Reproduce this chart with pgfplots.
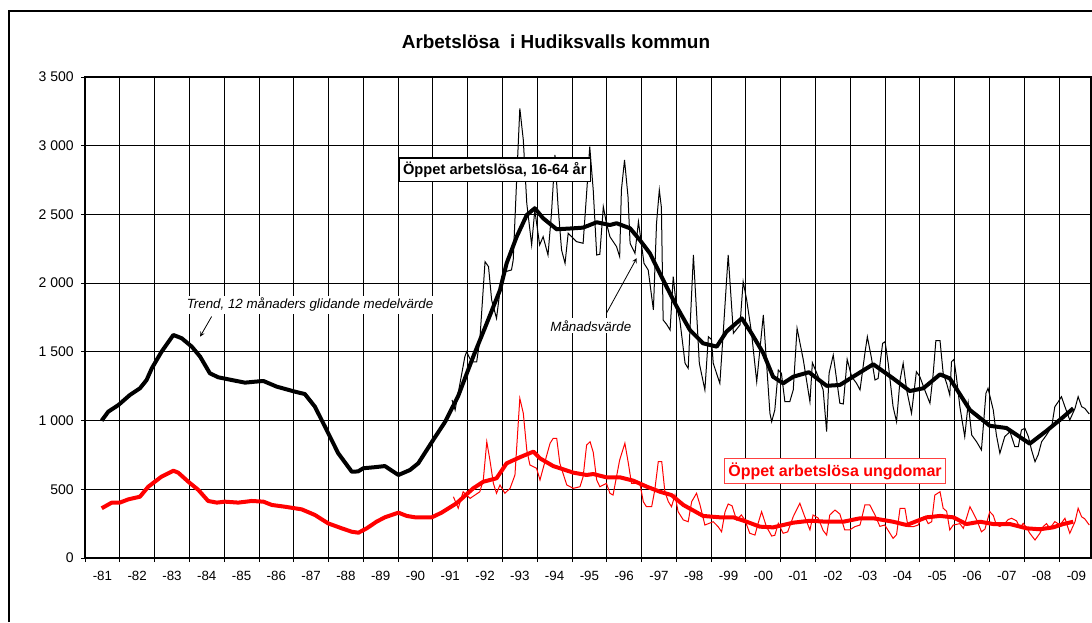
\documentclass[border=0pt]{standalone}
\usepackage{fontspec}
\setmainfont{Liberation Sans}
\usepackage{pgfplots}
\pgfplotsset{compat=1.18}

\begin{document}
\begin{tikzpicture}[x=0.75pt,y=0.75pt]
\path[use as bounding box] (0,0) rectangle (1092,622);
\draw[line width=0.9pt] (9,0) -- (9,611) -- (1092,611);
\node[font=\bfseries\fontsize{14.2}{16}\selectfont] at (556,580) {Arbetslösa\ \ i Hudiksvalls kommun};
\begin{axis}[
  at={(63.75pt,48pt)}, anchor=south west,
  scale only axis, width=754.5pt, height=360.75pt,
  xmin=1981, xmax=2009.92, ymin=0, ymax=3500,
  xtick={1981,...,2009}, xticklabels={},
  xmajorgrids, ymajorgrids,
  grid style={black, line width=0.6pt},
  axis line style={black, line width=0.8pt},
  tick align=outside, major tick length=3pt,
  tick style={black, line width=0.6pt},
  xtick pos=left, ytick pos=left,
  extra x ticks={1981.5,1982.5,...,2009.5},
  extra x tick labels={-81,-82,-83,-84,-85,-86,-87,-88,-89,-90,-91,-92,-93,-94,-95,-96,-97,-98,-99,-00,-01,-02,-03,-04,-05,-06,-07,-08,-09},
  extra x tick style={grid=none, major tick length=0pt, xticklabel style={yshift=-6pt}},
  ytick={0,500,...,3500},
  yticklabels={0,500,1 000,1 500,2 000,2 500,3 000,3 500},
  x tick label style={font=\fontsize{10}{12}\selectfont},
  y tick label style={font=\fontsize{10.5}{12}\selectfont, xshift=-2pt},
  clip=true,
]
% red monthly
\addplot[red, line width=0.75pt] coordinates {
(1991.59,446)(1991.73,362)(1991.87,482)(1992.07,434)(1992.35,482)(1992.45,568)(1992.55,846)(1992.64,713)(1992.74,543)(1992.83,471)(1992.93,531)(1993.07,471)(1993.22,507)(1993.36,604)(1993.50,1162)(1993.60,1053)(1993.70,786)(1993.79,677)(1993.98,653)(1994.08,568)(1994.17,653)(1994.37,835)(1994.46,871)(1994.56,871)(1994.65,689)(1994.85,531)(1995.04,507)(1995.23,519)(1995.32,592)(1995.42,822)(1995.52,846)(1995.61,770)(1995.71,568)(1995.80,519)(1995.99,543)(1996.09,471)(1996.18,458)(1996.37,713)(1996.52,835)(1996.62,689)(1996.71,543)(1996.95,543)(1997.05,410)(1997.14,373)(1997.29,373)(1997.38,495)(1997.48,701)(1997.58,701)(1997.67,482)(1997.77,410)(1997.86,373)(1997.96,458)(1998.05,337)(1998.20,277)(1998.34,264)(1998.44,410)(1998.58,471)(1998.68,386)(1998.82,240)(1999.06,264)(1999.20,228)(1999.30,191)(1999.40,337)(1999.49,393)(1999.60,380)(1999.73,277)(1999.87,313)(1999.97,277)(2000.11,180)(2000.26,167)(2000.35,252)(2000.45,337)(2000.59,228)(2000.74,160)(2000.83,165)(2000.93,252)(2001.07,180)(2001.20,190)(2001.36,301)(2001.55,398)(2001.69,301)(2001.84,204)(2001.93,313)(2002.08,290)(2002.22,200)(2002.32,167)(2002.41,313)(2002.56,349)(2002.70,320)(2002.84,204)(2002.98,204)(2003.13,228)(2003.28,240)(2003.42,386)(2003.56,386)(2003.71,313)(2003.85,230)(2003.99,240)(2004.09,200)(2004.23,143)(2004.33,170)(2004.43,362)(2004.57,362)(2004.66,228)(2004.81,228)(2004.95,240)(2005.05,290)(2005.14,300)(2005.24,250)(2005.34,264)(2005.43,458)(2005.58,482)(2005.67,362)(2005.77,340)(2005.86,204)(2005.96,240)(2006.15,250)(2006.25,216)(2006.34,290)(2006.44,373)(2006.53,330)(2006.63,280)(2006.77,191)(2006.87,210)(2007.01,337)(2007.11,310)(2007.20,240)(2007.30,230)(2007.44,250)(2007.54,280)(2007.64,289)(2007.78,270)(2007.88,220)(2007.97,252)(2008.07,220)(2008.16,180)(2008.31,131)(2008.45,180)(2008.55,230)(2008.64,250)(2008.74,216)(2008.88,265)(2009.03,240)(2009.17,289)(2009.31,180)(2009.46,264)(2009.55,362)(2009.65,300)(2009.74,285)(2009.87,240)
};
% red trend
\addplot[red, line width=3pt, line join=round] coordinates {
(1981.48,362)(1981.77,403)(1982.00,403)(1982.25,427)(1982.58,446)(1982.82,519)(1983.20,592)(1983.54,635)(1983.68,621)(1983.97,555)(1984.26,495)(1984.54,415)(1984.79,403)(1985.02,410)(1985.41,403)(1985.79,415)(1986.13,410)(1986.37,386)(1986.75,373)(1987.23,354)(1987.61,313)(1987.99,252)(1988.38,216)(1988.67,191)(1988.86,184)(1989.10,216)(1989.38,264)(1989.62,296)(1990.01,330)(1990.25,306)(1990.49,296)(1990.97,296)(1991.25,330)(1991.68,398)(1992.16,507)(1992.45,555)(1992.83,580)(1993.12,689)(1993.50,733)(1993.89,774)(1994.08,725)(1994.46,669)(1995.04,621)(1995.42,604)(1995.61,611)(1995.99,587)(1996.38,587)(1996.76,563)(1997.15,519)(1997.53,482)(1997.86,458)(1998.20,386)(1998.77,306)(1999.25,296)(1999.64,296)(2000.02,264)(2000.40,228)(2000.78,223)(2001.07,240)(2001.36,257)(2001.84,271)(2002.32,264)(2002.80,264)(2003.28,289)(2003.66,289)(2004.23,264)(2004.62,240)(2005.19,296)(2005.58,306)(2005.96,296)(2006.34,247)(2006.73,264)(2007.11,247)(2007.59,247)(2008.07,216)(2008.45,209)(2008.83,223)(2009.12,247)(2009.41,264)
};
% black monthly
\addplot[black, line width=0.75pt] coordinates {
(1991.55,1150)(1991.64,1077)(1991.92,1465)(1991.97,1501)(1992.11,1428)(1992.26,1428)(1992.35,1586)(1992.50,2156)(1992.60,2120)(1992.69,1877)(1992.83,1744)(1992.98,2047)(1993.08,2083)(1993.26,2096)(1993.31,2168)(1993.40,2700)(1993.50,3272)(1993.60,3042)(1993.70,2581)(1993.84,2278)(1993.93,2532)(1994.07,2278)(1994.17,2338)(1994.31,2205)(1994.41,2508)(1994.51,2933)(1994.60,2556)(1994.70,2241)(1994.80,2144)(1994.89,2363)(1994.99,2338)(1995.13,2302)(1995.32,2290)(1995.42,2654)(1995.51,2993)(1995.61,2678)(1995.71,2205)(1995.80,2210)(1995.90,2556)(1995.99,2436)(1996.09,2338)(1996.28,2266)(1996.37,2193)(1996.42,2678)(1996.51,2896)(1996.61,2629)(1996.67,2290)(1996.81,2217)(1996.91,2447)(1997.07,2144)(1997.19,2096)(1997.34,1805)(1997.43,2436)(1997.51,2678)(1997.57,2550)(1997.62,1732)(1997.72,1700)(1997.82,1659)(1997.91,2047)(1998.00,1830)(1998.10,1732)(1998.25,1417)(1998.34,1380)(1998.49,2205)(1998.60,1700)(1998.66,1417)(1998.82,1223)(1998.92,1610)(1999.01,1590)(1999.06,1417)(1999.25,1271)(1999.35,1650)(1999.49,2205)(1999.64,1635)(1999.83,1696)(1999.92,2011)(2000.02,1880)(2000.16,1640)(2000.31,1283)(2000.50,1768)(2000.69,1053)(2000.74,992)(2000.83,1077)(2000.93,1368)(2001.02,1344)(2001.12,1137)(2001.26,1137)(2001.36,1223)(2001.47,1672)(2001.65,1441)(2001.84,1137)(2001.91,1421)(2002.08,1319)(2002.22,1223)(2002.32,919)(2002.39,1344)(2002.51,1477)(2002.70,1126)(2002.80,1121)(2002.91,1446)(2003.04,1319)(2003.18,1271)(2003.28,1223)(2003.42,1490)(2003.49,1610)(2003.61,1453)(2003.71,1295)(2003.80,1307)(2003.93,1562)(2004.00,1574)(2004.09,1417)(2004.23,1101)(2004.33,992)(2004.43,1295)(2004.52,1417)(2004.62,1223)(2004.76,1053)(2004.90,1356)(2005.00,1319)(2005.14,1223)(2005.29,1126)(2005.38,1332)(2005.46,1581)(2005.58,1581)(2005.67,1344)(2005.77,1271)(2005.86,1186)(2005.91,1428)(2005.98,1446)(2006.05,1319)(2006.15,1101)(2006.29,883)(2006.39,1126)(2006.49,895)(2006.63,846)(2006.77,786)(2006.90,1199)(2006.96,1235)(2007.11,1077)(2007.20,895)(2007.30,762)(2007.44,883)(2007.59,919)(2007.73,810)(2007.83,810)(2007.92,931)(2008.02,944)(2008.12,883)(2008.21,786)(2008.31,701)(2008.40,750)(2008.50,846)(2008.64,895)(2008.79,956)(2008.88,1101)(2008.98,1137)(2009.07,1174)(2009.17,1101)(2009.31,1004)(2009.46,1089)(2009.55,1174)(2009.65,1101)(2009.74,1089)(2009.87,1048)
};
% black trend
\addplot[black, line width=3pt, line join=round] coordinates {
(1981.48,1000)(1981.67,1065)(1981.96,1113)(1982.29,1186)(1982.58,1235)(1982.77,1295)(1982.92,1380)(1983.20,1501)(1983.54,1623)(1983.78,1599)(1984.07,1538)(1984.31,1465)(1984.59,1344)(1984.83,1315)(1985.22,1295)(1985.60,1276)(1985.89,1283)(1986.13,1288)(1986.51,1247)(1987.04,1210)(1987.32,1193)(1987.61,1101)(1987.90,955)(1988.28,762)(1988.67,628)(1988.85,630)(1989.00,653)(1989.30,660)(1989.62,669)(1990.01,604)(1990.34,640)(1990.58,689)(1991.01,859)(1991.35,990)(1991.73,1180)(1992.16,1465)(1992.55,1708)(1992.93,1950)(1993.12,2144)(1993.41,2338)(1993.70,2496)(1993.93,2545)(1994.17,2472)(1994.56,2392)(1995.04,2399)(1995.32,2404)(1995.71,2443)(1996.09,2423)(1996.28,2436)(1996.67,2399)(1996.95,2314)(1997.24,2217)(1997.62,2023)(1998.01,1829)(1998.39,1659)(1998.77,1562)(1999.16,1538)(1999.44,1647)(1999.88,1744)(2000.16,1635)(2000.50,1490)(2000.78,1319)(2001.07,1271)(2001.36,1319)(2001.81,1352)(2002.32,1253)(2002.70,1259)(2003.08,1319)(2003.66,1410)(2004.23,1307)(2004.71,1215)(2005.10,1235)(2005.58,1336)(2005.86,1307)(2006.44,1077)(2007.01,962)(2007.49,946)(2008.16,832)(2008.64,925)(2009.02,1004)(2009.41,1089)
};
\node[draw=black, line width=1.1pt, fill=white, font=\bfseries\fontsize{11}{13}\selectfont, inner sep=3pt] at (axis cs:1992.78,2825) {Öppet arbetslösa, 16-64 år};
\node[draw=red!75, line width=1.2pt, fill=white, text=red, font=\bfseries\fontsize{12}{14}\selectfont, inner sep=3pt] at (axis cs:2002.56,633) {Öppet arbetslösa ungdomar};
\node[fill=white, font=\itshape\fontsize{10}{12}\selectfont, inner sep=1.5pt] at (axis cs:1987.47,1842) {Trend, 12 månaders glidande medelvärde};
\draw[-stealth, line width=0.6pt] (axis cs:1984.64,1757) -- (axis cs:1984.31,1611);
\node[fill=white, font=\itshape\fontsize{10}{12}\selectfont, inner sep=1.5pt] at (axis cs:1995.54,1689) {Månadsvärde};
\draw[-stealth, line width=0.6pt] (axis cs:1995.99,1781) -- (axis cs:1996.86,2182);
\end{axis}
\end{tikzpicture}
\end{document}
